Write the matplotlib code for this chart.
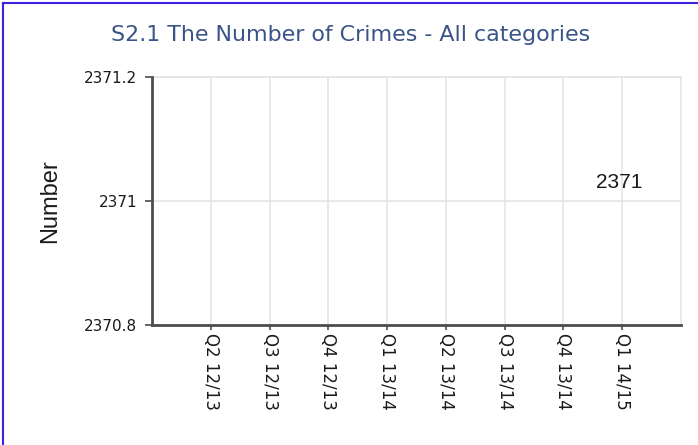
import matplotlib
matplotlib.use("Agg")
import matplotlib.pyplot as plt
import numpy as np
from matplotlib.lines import Line2D

# ---- data ----
categories = ["Q2 12/13", "Q3 12/13", "Q4 12/13", "Q1 13/14",
              "Q2 13/14", "Q3 13/14", "Q4 13/14", "Q1 14/15"]
values = [np.nan, np.nan, np.nan, np.nan, np.nan, np.nan, np.nan, 2371]
y_ticks = [2370.8, 2371.0, 2371.2]
y_tick_labels = ["2370.8", "2371", "2371.2"]
title = "S2.1 The Number of Crimes - All categories"
y_label = "Number"

W, H = 698, 445
fig = plt.figure(figsize=(W / 100, H / 100), dpi=100)
fig.patch.set_facecolor("white")

left, right, top, bottom = 152, 681, 77, 325
ax = fig.add_axes([left / W, 1 - bottom / H, (right - left) / W, (bottom - top) / H])

x = np.arange(len(categories))
ax.plot(x, values, lw=0, color="#4572A7")
for xi, v in zip(x, values):
    if not np.isnan(v):
        ax.annotate(f"{v:g}", (xi, v), xytext=(-2, 13.5), textcoords="offset points",
                    ha="center", va="center", fontsize=15, family="Liberation Sans",
                    color="#1a1a1a")

ax.set_xlim(-1, len(categories))
ax.set_ylim(y_ticks[0], y_ticks[-1])
ax.set_xticks(x)
ax.set_xticklabels(categories, rotation=-90, ha="center", va="top", fontsize=12,
                   color="#1a1a1a")
ax.set_yticks(y_ticks)
ax.set_yticklabels(y_tick_labels, fontsize=11, color="#1a1a1a")

grid_c = "#e3e3e3"
ax.grid(True, color=grid_c, lw=1.1)
ax.axvline(len(categories), color=grid_c, lw=1.1, clip_on=False, zorder=0.5)
ax.axhline(y_ticks[-1], color=grid_c, lw=1.1, clip_on=False, zorder=0.5)
ax.set_axisbelow(True)

for s in ["top", "right"]:
    ax.spines[s].set_visible(False)
for s in ["left", "bottom"]:
    ax.spines[s].set_color("#4d4d4d")
    ax.spines[s].set_linewidth(2.0)
ax.tick_params(axis="y", length=5, width=1.2, color="#4d4d4d", pad=5.5)
ax.tick_params(axis="x", length=3.6, width=1.2, color="#4d4d4d", pad=2)

fig.text(351 / W, 1 - 41 / H, title, ha="center", va="baseline", fontsize=15.9,
         color="#3b5487")
fig.text(50 / W, 1 - 201 / H, y_label, rotation=90, ha="center", va="center",
         fontsize=17, family="Liberation Sans", color="#1a1a1a")

border_c = "#3a22e0"
fig.add_artist(Line2D([2.5 / W, 2.5 / W], [0, 1 - 2.5 / H], color=border_c, lw=1.5,
                      transform=fig.transFigure))
fig.add_artist(Line2D([2.5 / W, 1], [1 - 2.5 / H, 1 - 2.5 / H], color=border_c, lw=1.5,
                      transform=fig.transFigure))

fig.savefig("out.png", dpi=100)
